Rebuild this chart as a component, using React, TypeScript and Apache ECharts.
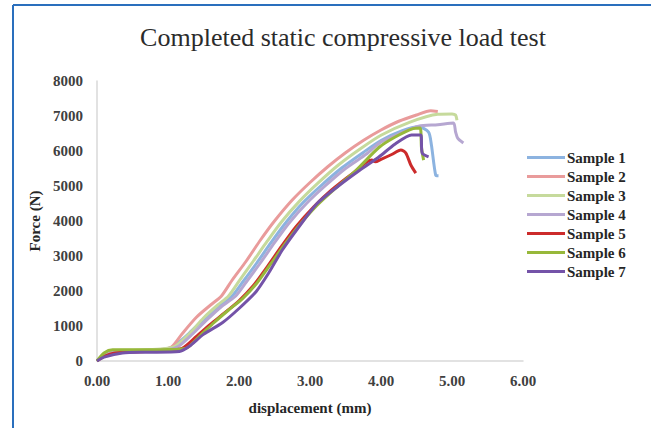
import React, { useEffect, useRef } from "react";
import * as echarts from "echarts";

const seriesNames = ["Sample 1", "Sample 2", "Sample 3", "Sample 4", "Sample 5", "Sample 6", "Sample 7"];
const seriesColors = ["#8cb3e0", "#e99b9b", "#c6da9c", "#b6a7d1", "#cc2b2b", "#97b83a", "#7453a8"];

const xTicks = [0, 1, 2, 3, 4, 5, 6];
const yTicks = [0, 1000, 2000, 3000, 4000, 5000, 6000, 7000, 8000];

const sample1: [number, number][] = [
  [0, 0], [0.1, 180], [0.22, 270], [0.5, 290], [0.98, 340], [1.1, 450], [1.3, 800], [1.5, 1180],
  [1.7, 1550], [1.9, 1850], [2.05, 2250], [2.25, 2800], [2.45, 3380], [2.65, 3930], [2.9, 4520],
  [3.15, 5000], [3.45, 5520], [3.75, 5960], [4.0, 6300], [4.3, 6580], [4.53, 6690], [4.67, 6540],
  [4.71, 6170], [4.77, 5310], [4.81, 5290],
];
const sample2: [number, number][] = [
  [0, 0], [0.08, 150], [0.2, 260], [0.5, 290], [0.9, 330], [1.05, 400], [1.2, 780], [1.4, 1250],
  [1.6, 1600], [1.75, 1850], [1.9, 2300], [2.1, 2850], [2.3, 3450], [2.5, 4000], [2.75, 4600],
  [3.0, 5100], [3.25, 5550], [3.5, 5950], [3.75, 6300], [4.0, 6600], [4.25, 6850], [4.5, 7030],
  [4.7, 7150], [4.8, 7130],
];
const sample3: [number, number][] = [
  [0, 0], [0.1, 220], [0.22, 300], [0.5, 310], [0.9, 340], [1.1, 420], [1.3, 780], [1.5, 1230],
  [1.7, 1600], [1.85, 1850], [2.0, 2280], [2.2, 2850], [2.4, 3430], [2.6, 3980], [2.85, 4560],
  [3.1, 5060], [3.4, 5600], [3.7, 6050], [4.0, 6450], [4.4, 6820], [4.8, 7050], [5.0, 7060],
  [5.05, 7030], [5.07, 6880],
];
const sample4: [number, number][] = [
  [0, 0], [0.1, 170], [0.25, 260], [0.5, 280], [1.0, 320], [1.15, 420], [1.35, 780], [1.55, 1180],
  [1.75, 1550], [1.95, 1850], [2.1, 2250], [2.3, 2800], [2.5, 3380], [2.7, 3930], [2.95, 4500],
  [3.2, 4980], [3.5, 5500], [3.8, 5920], [4.0, 6260], [4.3, 6530], [4.53, 6710], [4.8, 6750],
  [5.02, 6800], [5.05, 6550], [5.08, 6370], [5.16, 6230],
];
const sample5: [number, number][] = [
  [0, 0], [0.1, 130], [0.25, 230], [0.5, 260], [1.0, 300], [1.2, 360], [1.4, 700], [1.6, 1050],
  [1.8, 1380], [2.0, 1720], [2.2, 2150], [2.4, 2700], [2.6, 3280], [2.8, 3830], [3.05, 4400],
  [3.3, 4880], [3.6, 5360], [3.87, 5740], [3.92, 5690], [4.0, 5760], [4.15, 5900], [4.28, 6030],
  [4.35, 5940], [4.42, 5600], [4.49, 5370],
];
const sample6: [number, number][] = [
  [0, 0], [0.1, 230], [0.22, 320], [0.5, 320], [1.0, 330], [1.25, 360], [1.45, 720], [1.65, 1100],
  [1.85, 1450], [2.05, 1780], [2.25, 2220], [2.45, 2780], [2.65, 3350], [2.85, 3880], [3.1, 4450],
  [3.35, 4920], [3.65, 5450], [3.97, 6100], [4.2, 6400], [4.45, 6640], [4.55, 6660], [4.57, 6100],
  [4.6, 5740],
];
const sample7: [number, number][] = [
  [0, 0], [0.1, 110], [0.36, 230], [0.7, 250], [1.16, 270], [1.3, 420], [1.5, 760], [1.77, 1100],
  [2.0, 1500], [2.24, 1980], [2.42, 2520], [2.61, 3170], [2.85, 3850], [3.1, 4500], [3.4, 5000],
  [3.7, 5450], [3.97, 5830], [4.2, 6200], [4.43, 6460], [4.56, 6460], [4.58, 5940], [4.67, 5830],
];

const allData = [sample1, sample2, sample3, sample4, sample5, sample6, sample7];

const FONT = "'Liberation Serif', 'DejaVu Serif', serif";

export default function App() {
  const ref = useRef<HTMLDivElement>(null);
  useEffect(() => {
    document.body.style.margin = "0";
    if (!ref.current) return;
    const chart = echarts.init(ref.current, null, { renderer: "svg" });
    chart.setOption({
      animation: false,
      backgroundColor: "#ffffff",
      title: {
        text: "Completed static compressive load test",
        left: 338,
        top: 19,
        textAlign: "center",
        textStyle: { fontFamily: FONT, fontSize: 26, fontWeight: "normal", color: "#2b2b2b" },
      },
      legend: {
        orient: "vertical",
        left: 527,
        top: 150,
        padding: 0,
        itemWidth: 38,
        itemHeight: 3,
        itemGap: 4,
        icon: "rect",
        textStyle: { fontFamily: FONT, fontSize: 15, fontWeight: "bold", color: "#262626", lineHeight: 15, padding: [0, 0, 0, -3] },
        data: seriesNames,
      },
      grid: { left: 97, right: 128, top: 81, bottom: 67 },
      xAxis: {
        type: "value",
        min: 0,
        max: 6,
        interval: 1,
        name: "displacement (mm)",
        nameLocation: "middle",
        nameGap: 39,
        nameTextStyle: { fontFamily: FONT, fontSize: 15, fontWeight: "bold", color: "#262626" },
        axisLine: { show: true, lineStyle: { color: "#d9d9d9", width: 1.5 } },
        axisTick: { show: false },
        splitLine: { show: false },
        axisLabel: {
          fontFamily: FONT, fontSize: 15, fontWeight: "bold", color: "#404040", margin: 12,
          formatter: (v: number) => (xTicks.includes(v) ? v.toFixed(2) : ""),
        },
      },
      yAxis: {
        type: "value",
        min: 0,
        max: 8000,
        interval: 1000,
        name: "Force (N)",
        nameLocation: "middle",
        nameGap: 50,
        nameTextStyle: { fontFamily: FONT, fontSize: 15, fontWeight: "bold", color: "#262626" },
        axisLine: { show: true, lineStyle: { color: "#d9d9d9", width: 1.5 } },
        axisTick: { show: false },
        splitLine: { show: false },
        axisLabel: {
          fontFamily: FONT, fontSize: 15, fontWeight: "bold", color: "#404040", margin: 14,
          formatter: (v: number) => (yTicks.includes(v) ? String(v) : ""),
        },
      },
      series: allData.map((d, i) => ({
        name: seriesNames[i],
        type: "line",
        data: d,
        showSymbol: false,
        smooth: 0.25,
        lineStyle: { width: 3, color: seriesColors[i] },
        itemStyle: { color: seriesColors[i] },
      })),
      graphic: [
        { type: "line", shape: { x1: 13, y1: 5, x2: 651, y2: 5 }, style: { stroke: "#2a6fbd", lineWidth: 2 } },
        { type: "line", shape: { x1: 13, y1: 5, x2: 13, y2: 428 }, style: { stroke: "#2a6fbd", lineWidth: 2 } },
      ],
    });
    return () => chart.dispose();
  }, []);
  return <div ref={ref} style={{ width: 651, height: 428 }} />;
}
